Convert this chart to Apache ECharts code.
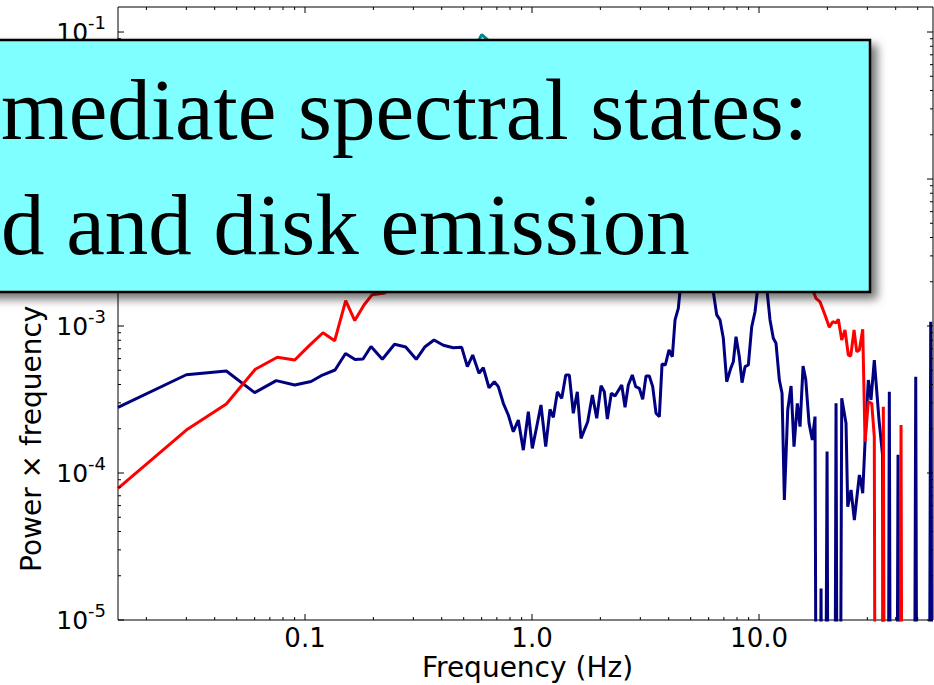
<!DOCTYPE html>
<html>
<head>
<meta charset="utf-8">
<script src="https://cdn.jsdelivr.net/npm/echarts@6/dist/echarts.min.js"></script>
<style>
html,body{margin:0;padding:0;background:#fff;}
#chart{width:934px;height:685px;}
</style>
</head>
<body>
<div id="chart"></div>
<script>
// ---------------- data (Hz, power x frequency) ----------------
// 1e-9 marks bins whose value is non-positive (drawn clipped to the bottom of the log axis)
const blueFreq = [
  0.0150, 0.0300, 0.0450, 0.0600, 0.0747, 0.0901, 0.1063, 0.1194, 0.1356, 0.1508,
  0.1661, 0.1801, 0.1953, 0.2191, 0.2479, 0.2777, 0.3090, 0.3379, 0.3701, 0.4067,
  0.4499, 0.4901, 0.5188, 0.5479, 0.5840, 0.6101, 0.6465, 0.6823, 0.7103, 0.7475,
  0.7862, 0.8272, 0.8702, 0.9155, 0.9632, 1.003, 1.049, 1.095, 1.149, 1.200,
  1.241, 1.293, 1.352, 1.408, 1.460, 1.520, 1.583, 1.644, 1.759, 1.844,
  1.928, 2.014, 2.082, 2.147, 2.235, 2.321, 2.484, 2.569, 2.656, 2.766,
  2.862, 2.969, 3.073, 3.178, 3.286, 3.401, 3.518, 3.638, 3.739, 3.866,
  4.013, 4.150, 4.266, 4.410,
  4.580, 4.770, 4.966, 5.172, 5.387, 5.610, 5.842, 6.083, 6.272,
  6.512, 6.733, 6.962, 7.206, 7.505, 7.706, 7.919, 8.189, 8.417, 8.677, 8.973, 9.286, 9.603,
  9.899, 10.20, 10.52, 10.84,
  11.18, 11.56, 11.88, 12.29, 12.63, 12.93, 13.38, 13.84, 14.26, 14.75,
  15.16, 15.63, 16.06, 16.61, 17.17, 17.65, 18.10, 18.76, 19.24, 19.94,
  20.44, 21.29, 21.84, 22.40, 23.14, 24.17, 24.59, 25.43, 26.30, 27.67,
  28.05, 28.63, 29.31, 30.30, 31.14, 32.20, 33.78, 35.00, 35.90, 36.64,
  37.50, 38.35, 39.93, 40.96, 41.80, 47.70, 49.02, 50.17, 55.53, 57.07,
  58.4
];
const bluePower = [
  2.80e-4, 4.66e-4, 4.94e-4, 3.52e-4, 4.25e-4, 3.97e-4, 4.19e-4, 4.64e-4, 5.02e-4, 6.50e-4,
  5.92e-4, 5.96e-4, 7.25e-4, 5.94e-4, 7.52e-4, 7.20e-4, 5.94e-4, 7.23e-4, 8.03e-4, 7.39e-4,
  7.12e-4, 7.16e-4, 5.29e-4, 6.35e-4, 4.77e-4, 5.20e-4, 3.80e-4, 4.18e-4, 3.87e-4, 2.98e-4,
  2.48e-4, 1.91e-4, 2.29e-4, 1.43e-4, 2.61e-4, 1.47e-4, 2.07e-4, 2.90e-4, 1.51e-4, 2.71e-4,
  2.39e-4, 3.56e-4, 3.22e-4, 4.64e-4, 4.64e-4, 2.55e-4, 3.57e-4, 1.72e-4, 2.23e-4, 3.39e-4,
  2.36e-4, 3.93e-4, 3.57e-4, 2.33e-4, 3.49e-4, 3.34e-4, 3.97e-4, 2.80e-4, 3.97e-4, 4.64e-4,
  3.87e-4, 3.77e-4, 3.17e-4, 4.57e-4, 4.57e-4, 3.87e-4, 2.55e-4, 2.42e-4, 5.51e-4, 5.43e-4,
  6.87e-4, 6.18e-4, 1.10e-3, 1.32e-3,
  2.40e-3, 5.26e-3, 1.35e-2, 2.52e-2, 1.15e-2, 6.15e-3, 3.85e-3, 2.60e-3, 1.76e-3,
  1.19e-3, 1.10e-3, 8.25e-4, 4.18e-4, 5.15e-4, 5.72e-4, 8.46e-4, 6.18e-4, 4.12e-4, 5.29e-4, 5.43e-4, 9.89e-4, 1.25e-3,
  1.90e-3, 3.85e-3, 2.60e-3, 1.76e-3,
  1.10e-3, 8.25e-4, 7.63e-4, 4.29e-4, 3.49e-4, 6.55e-5, 2.68e-4, 3.91e-4, 1.51e-4, 2.98e-4,
  2.07e-4, 5.34e-4, 4.34e-4, 2.18e-4, 1.68e-4, 2.42e-4, 1e-9, 1.64e-5, 1e-9, 1.40e-4,
  1e-9, 1e-9, 2.98e-4, 1e-9, 3.22e-4, 2.18e-4, 5.90e-5, 7.66e-5, 4.79e-5, 9.69e-5,
  8.96e-5, 7.28e-5, 1.63e-4, 4.29e-4, 3.14e-4, 5.87e-4, 2.29e-4, 1.33e-4, 1e-9, 1e-9,
  3.57e-4, 1e-9, 1e-9, 1.33e-4, 1e-9, 1e-9, 4.52e-4, 1e-9, 1e-9, 1.07e-3,
  1e-9
];
const redFreq = [
  0.0150, 0.0300, 0.0450, 0.0604, 0.0755, 0.0901, 0.1049, 0.1200, 0.1351, 0.1511,
  0.1656, 0.1819, 0.1973, 0.2244,
  0.249, 0.321, 0.435, 0.590, 0.800, 1.084, 1.470, 1.993, 2.702, 3.664,
  4.721, 5.496, 7.451, 10.10, 13.70, 16.44,
  17.47, 17.83, 18.57, 19.53, 20.40, 21.12, 21.84, 22.36, 23.14, 23.92,
  24.74, 25.35, 26.22, 26.94, 27.67, 28.63, 29.31, 30.30, 31.37, 32.20,
  32.77, 34.47, 35.29, 36.09, 41.38, 42.23, 43.10, 58.4
];
const redPower = [
  7.87e-5, 1.96e-4, 2.95e-4, 5.08e-4, 6.13e-4, 5.87e-4, 7.42e-4, 9.00e-4, 7.94e-4, 1.49e-3,
  1.09e-3, 1.39e-3, 1.63e-3, 1.68e-3,
  1.90e-3, 2.22e-3, 2.60e-3, 3.29e-3, 3.85e-3, 4.16e-3, 4.50e-3, 4.86e-3, 5.69e-3, 7.78e-3,
  1.15e-2, 8.41e-3, 5.69e-3, 5.26e-3, 3.04e-3, 1.96e-3,
  1.67e-3, 1.54e-3, 1.46e-3, 1.19e-3, 9.80e-4, 1.07e-3, 1.05e-3, 1.11e-3, 8.03e-4, 9.39e-4,
  6.35e-4, 6.25e-4, 9.39e-4, 6.69e-4, 6.87e-4, 9.50e-4, 1.63e-4, 3.05e-4, 2.98e-4, 1.77e-4,
  1e-9, 1e-9, 2.82e-4, 1e-9, 1e-9, 2.12e-4, 1e-9, 1e-9
];
const tealFreq = [0.015, 0.03, 0.06, 0.1, 0.2, 0.3, 0.4, 0.5, 0.6, 0.7, 0.8, 1.0, 1.2, 1.5, 2, 3, 5, 8, 12, 18];
const tealPower = [0.004, 0.005, 0.007, 0.009, 0.012, 0.016, 0.022, 0.055, 0.096, 0.078, 0.035, 0.025, 0.04, 0.02, 0.015, 0.01, 0.007, 0.005, 0.0035, 0.0025];

// ---------------- axes / ticks ----------------
const xMin = 0.015, xMax = 58.4;
const yMin = 1e-5, yMax = 0.148;
const xTickValues = [0.1, 1, 10];
const xTickLabels = ['0.1', '1.0', '10.0'];
const xMinorTicks = [0.02,0.03,0.04,0.05,0.06,0.07,0.08,0.09,0.2,0.3,0.4,0.5,0.6,0.7,0.8,0.9,2,3,4,5,6,7,8,9,20,30,40,50];
// tick labels shown in the picture (10^-2 lies under the text box and is not visible)
const yTickValues = [1e-5, 1e-4, 1e-3, 1e-1];
const yTickExponents = ['-5', '-4', '-3', '-1'];
const yMajorTicks = [1e-5, 1e-4, 1e-3, 1e-2, 1e-1];
const yMinorTicks = [2e-5,3e-5,4e-5,5e-5,6e-5,7e-5,8e-5,9e-5,
                     2e-4,3e-4,4e-4,5e-4,6e-4,7e-4,8e-4,9e-4,
                     2e-3,3e-3,4e-3,5e-3,6e-3,7e-3,8e-3,9e-3,
                     2e-2,3e-2,4e-2,5e-2,6e-2,7e-2,8e-2,9e-2];

const titleLine1 = 'mediate spectral states:';
const titleLine2 = 'd and disk emission';
const xName = 'Frequency (Hz)';
const yName = 'Power \u00d7 frequency';

const FONT = 'DejaVu Sans';
const MAJOR = 6, MINOR = 3;

function zip(a, b) { return a.map((v, i) => [v, b[i]]); }
function findTick(values, v) {
  const lv = Math.log10(v);
  for (let i = 0; i < values.length; i++) {
    if (Math.abs(Math.log10(values[i]) - lv) < 1e-6) return i;
  }
  return -1;
}

const xTickData = xTickValues.map(v => [v, 1e-3, MAJOR]).concat(xMinorTicks.map(v => [v, 1e-3, MINOR]));
const yTickData = yMajorTicks.map(v => [1, v, MAJOR]).concat(yMinorTicks.map(v => [1, v, MINOR]));

const chart = echarts.init(document.getElementById('chart'), null, {renderer: 'svg'});
chart.setOption({
  animation: false,
  backgroundColor: '#ffffff',
  grid: {left: 118, top: 7, right: 1, bottom: 65, show: true, borderColor: '#000', borderWidth: 1,
         containLabel: false, outerBoundsMode: 'none'},
  xAxis: {
    type: 'log', logBase: 10, min: xMin, max: xMax,
    axisLine: {show: false}, axisTick: {show: false}, splitLine: {show: false}, minorTick: {show: false},
    axisLabel: {
      fontFamily: FONT, fontSize: 26, color: '#000', margin: 5,
      formatter: v => { const i = findTick(xTickValues, v); return i >= 0 ? xTickLabels[i] : ''; }
    }
  },
  yAxis: {
    type: 'log', logBase: 10, min: yMin, max: yMax,
    axisLine: {show: false}, axisTick: {show: false}, splitLine: {show: false}, minorTick: {show: false},
    axisLabel: {
      margin: 12,
      formatter: v => { const i = findTick(yTickValues, v); return i >= 0 ? '{b|10}{s|' + yTickExponents[i] + '}' : ''; },
      rich: {
        b: {fontFamily: FONT, fontSize: 25, lineHeight: 38, color: '#000'},
        s: {fontFamily: FONT, fontSize: 18, lineHeight: 18, verticalAlign: 'top', color: '#000'}
      }
    }
  },
  series: [
    {type: 'line', name: 'hard', data: zip(blueFreq, bluePower), symbol: 'none', showSymbol: false,
     lineStyle: {color: '#000080', width: 3}, itemStyle: {color: '#000080'}, clip: true, silent: true, z: 2},
    {type: 'line', name: 'disk', data: zip(redFreq, redPower), symbol: 'none', showSymbol: false,
     lineStyle: {color: '#ff0000', width: 3}, itemStyle: {color: '#ff0000'}, clip: true, silent: true, z: 3},
    {type: 'line', name: 'intermediate', data: zip(tealFreq, tealPower), symbol: 'none', showSymbol: false,
     lineStyle: {color: '#008b8b', width: 3}, itemStyle: {color: '#008b8b'}, clip: true, silent: true, z: 1},
    {type: 'custom', coordinateSystem: 'cartesian2d', silent: true, clip: false, z: 4,
     encode: {x: 0, y: 1}, data: xTickData,
     renderItem: (params, api) => {
       const cs = params.coordSys;
       const px = api.coord([api.value(0), api.value(1)])[0];
       const len = api.value(2);
       const bottom = cs.y + cs.height, top = cs.y;
       return {type: 'group', children: [
         {type: 'line', shape: {x1: px, y1: bottom, x2: px, y2: bottom - len}, style: {stroke: '#000', lineWidth: 1}},
         {type: 'line', shape: {x1: px, y1: top, x2: px, y2: top + len}, style: {stroke: '#000', lineWidth: 1}}
       ]};
     }},
    {type: 'custom', coordinateSystem: 'cartesian2d', silent: true, clip: false, z: 4,
     encode: {x: 0, y: 1}, data: yTickData,
     renderItem: (params, api) => {
       const cs = params.coordSys;
       const py = api.coord([api.value(0), api.value(1)])[1];
       const len = api.value(2);
       const left = cs.x, right = cs.x + cs.width;
       return {type: 'group', children: [
         {type: 'line', shape: {x1: left, y1: py, x2: left + len, y2: py}, style: {stroke: '#000', lineWidth: 1}},
         {type: 'line', shape: {x1: right, y1: py, x2: right - len, y2: py}, style: {stroke: '#000', lineWidth: 1}}
       ]};
     }}
  ],
  graphic: [
    {type: 'text', z: 5, x: 527.5, y: 667,
     style: {text: xName, fontFamily: FONT, fontSize: 28, lineHeight: 24, fill: '#000', align: 'center', verticalAlign: 'middle'}},
    {type: 'text', z: 5, x: 31, y: 572, rotation: Math.PI / 2,
     style: {text: yName, fontFamily: FONT, fontSize: 28, fill: '#000', align: 'left', verticalAlign: 'middle'}},
    {type: 'rect', z: 100, shape: {x: -300, y: 40, width: 1170, height: 252},
     style: {fill: '#7fffff', stroke: '#000', lineWidth: 2.5,
             shadowBlur: 10, shadowOffsetX: 6, shadowOffsetY: 6, shadowColor: 'rgba(0,0,0,0.55)'}},
    {type: 'text', z: 101, x: 1, y: 109,
     style: {text: titleLine1, fontFamily: 'Liberation Serif', fontSize: 87, fill: '#000', align: 'left', verticalAlign: 'middle'}},
    {type: 'text', z: 101, x: 1, y: 224,
     style: {text: titleLine2, fontFamily: 'Liberation Serif', fontSize: 87, fill: '#000', align: 'left', verticalAlign: 'middle'}}
  ]
});
</script>
</body>
</html>
